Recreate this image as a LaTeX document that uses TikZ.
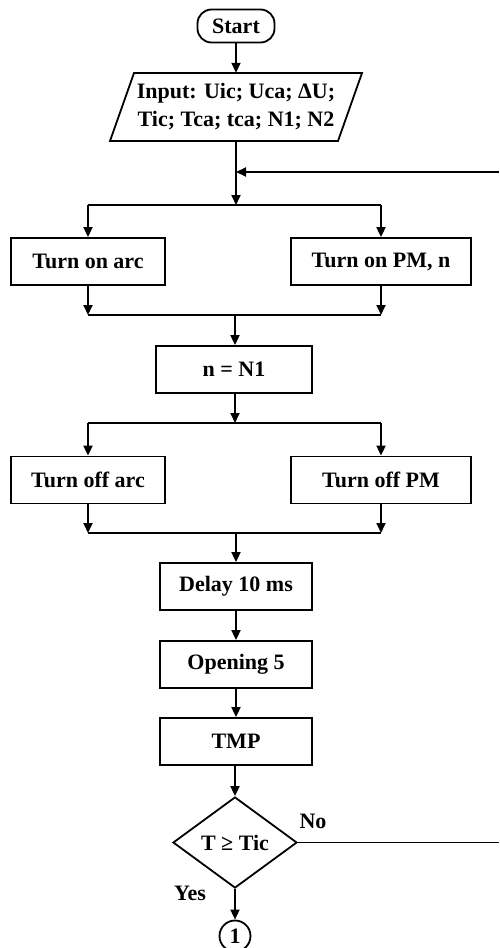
\documentclass[tikz,border=0pt]{standalone}
\usepackage{fontspec}
\setmainfont{Liberation Serif}
\usetikzlibrary{arrows.meta,shapes.geometric}
\begin{document}
\begin{tikzpicture}[x=1pt,y=-1pt,
  every node/.style={font=\fontsize{22}{28}\selectfont\bfseries, inner sep=0pt},
  box/.style={draw, line width=1.8pt, minimum width=154pt, minimum height=47pt},
  wbox/.style={draw, line width=1.8pt, minimum width=180pt, minimum height=47pt},
  conn/.style={line width=1.8pt},
  arr/.style={line width=1.8pt, -{Triangle[length=10pt,width=9pt]}}]
\useasboundingbox (0,0) rectangle (499,948);
% nodes
\node[draw, line width=1.8pt, rounded corners=14pt, minimum width=77pt, minimum height=33pt] (start) at (236,26) {Start};
\node[minimum width=228pt, minimum height=68pt, align=center] (in) at (236,107) {Input: Uic; Uca; ΔU;\\Tic; Tca; tca; N1; N2};
\draw[line width=1.8pt] (134,73) -- (362,73) -- (338,141) -- (110,141) -- cycle;
\node[box] (onarc) at (88,261.5) {Turn on arc};
\node[wbox] (onpm) at (381,261.5) {Turn on PM, n};
\node[box, minimum width=156pt] (n1) at (234,369.5) {n = N1};
\node[box] (offarc) at (88,480) {Turn off arc};
\node[wbox] (offpm) at (381,480) {Turn off PM};
\node[box, minimum width=152pt] (delay) at (236,586.5) {Delay 10 ms};
\node[box, minimum width=152pt] (open) at (236,664.5) {Opening 5};
\node[box, minimum width=152pt] (tmp) at (236,741.5) {TMP};
\node[draw, line width=1.8pt, diamond, aspect=1.36, minimum width=124pt, minimum height=91pt] (dec) at (235,842.5) {T ≥ Tic};
\node[draw, line width=1.8pt, circle, minimum size=31pt] (one) at (235,936) {1};
\node (no) at (313,821) {No};
\node (yes) at (190,893) {Yes};
% coordinates
\coordinate (fb) at (236,172);
\coordinate (fbR) at (499,172);
\coordinate (noR) at (499,842.5);
\coordinate (s1) at (236,205);
\coordinate (s1L) at (88,205);
\coordinate (s1R) at (381,205);
\coordinate (m1) at (235,315);
\coordinate (m1L) at (88,315);
\coordinate (m1R) at (381,315);
\coordinate (s2) at (235,423);
\coordinate (s2L) at (88,423);
\coordinate (s2R) at (381,423);
\coordinate (m2) at (236,533);
\coordinate (m2L) at (88,533);
\coordinate (m2R) at (381,533);
% connectors
\draw[arr] (start) -- (in.north -| start);
\draw[arr] (in.south -| start) -- (s1);
\draw[arr] (fbR) -- (fb);
\draw[conn] (s1L) -- (s1R);
\draw[arr] (s1L) -- (onarc.north);
\draw[arr] (s1R) -- (onpm.north);
\draw[arr] (onarc.south) -- (m1L);
\draw[arr] (onpm.south) -- (m1R);
\draw[conn] (m1L) -- (m1R);
\draw[arr] (m1) -- (n1.north -| m1);
\draw[arr] (n1.south -| m1) -- (s2);
\draw[conn] (s2L) -- (s2R);
\draw[arr] (s2L) -- (offarc.north);
\draw[arr] (s2R) -- (offpm.north);
\draw[arr] (offarc.south) -- (m2L);
\draw[arr] (offpm.south) -- (m2R);
\draw[conn] (m2L) -- (m2R);
\draw[arr] (m2) -- (delay.north -| m2);
\draw[arr] (delay.south -| m2) -- (open.north -| m2);
\draw[arr] (open.south -| m2) -- (tmp.north -| m2);
\draw[arr] (tmp.south -| dec) -- (dec.north);
\draw[conn] (dec.east) -- (noR);
\draw[arr] (dec.south) -- (one.north);
\end{tikzpicture}
\end{document}
